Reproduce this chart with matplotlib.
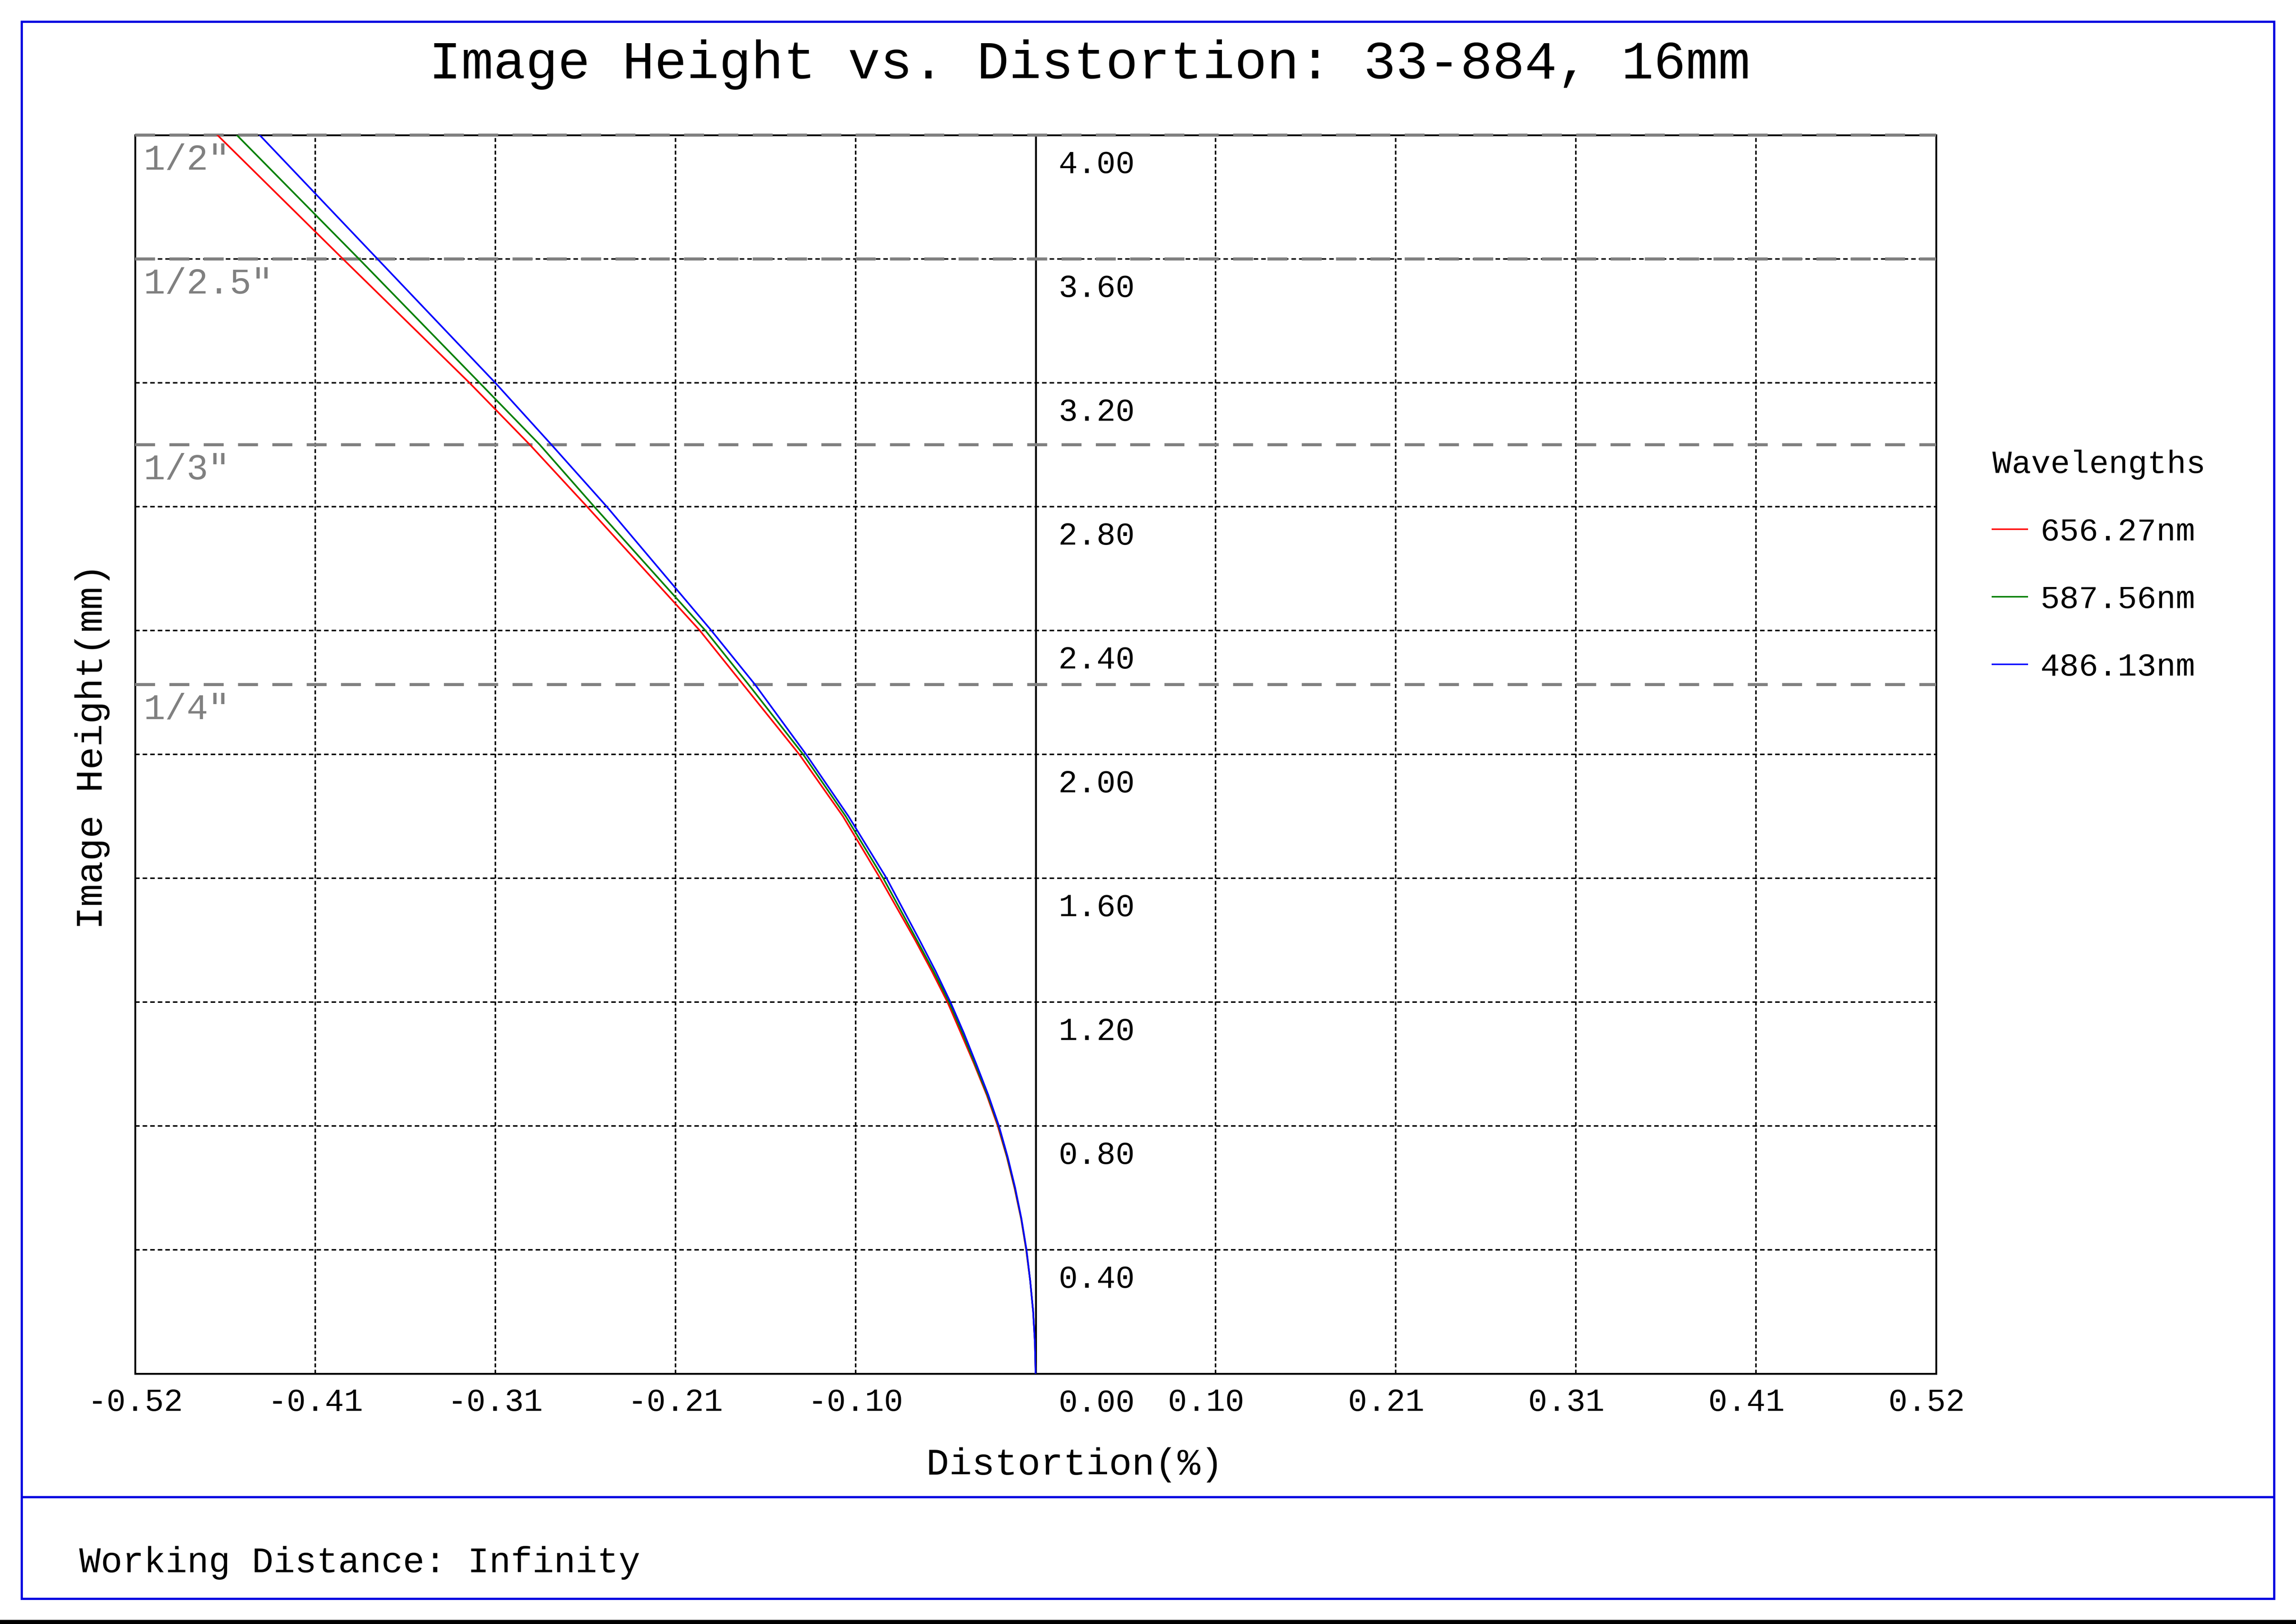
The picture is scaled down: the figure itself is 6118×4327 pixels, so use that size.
import numpy as np
import matplotlib.pyplot as plt
from matplotlib.lines import Line2D
from matplotlib.patches import Rectangle

W, H = 6118, 4327
DPI = 100

# data
image_height = [0.0, 0.1, 0.2, 0.3, 0.4, 0.5, 0.6, 0.7, 0.8, 0.9, 1.0, 1.1, 1.2, 1.3,
                1.4, 1.6, 1.8, 2.0, 2.225, 2.4, 2.8, 3.0, 3.2, 3.6, 4.0]
dist_656 = [0.0, -0.0004, -0.0014, -0.0031, -0.0054, -0.0083, -0.0121, -0.0165, -0.0217,
            -0.0280, -0.0352, -0.0428, -0.0505, -0.0595, -0.0690, -0.0891, -0.1104,
            -0.1354, -0.1675, -0.1924, -0.2570, -0.2898, -0.3244, -0.3969, -0.4688]
dist_587 = [0.0, -0.0004, -0.0014, -0.0031, -0.0053, -0.0082, -0.0119, -0.0163, -0.0213,
            -0.0276, -0.0347, -0.0419, -0.0496, -0.0585, -0.0680, -0.0873, -0.1088,
            -0.1332, -0.1644, -0.1892, -0.2529, -0.2841, -0.3186, -0.3877, -0.4577]
dist_486 = [0.0, -0.0004, -0.0014, -0.0031, -0.0052, -0.0081, -0.0117, -0.0160, -0.0210,
            -0.0271, -0.0340, -0.0411, -0.0488, -0.0573, -0.0665, -0.0854, -0.1072,
            -0.1315, -0.1607, -0.1858, -0.2457, -0.2774, -0.3096, -0.3771, -0.4446]
wavelengths = ['656.27nm', '587.56nm', '486.13nm']
colors = ['#ff0000', '#008000', '#0000ff']

sensor_names = ['1/2"', '1/2.5"', '1/3"', '1/4"']
sensor_heights = [4.0, 3.6, 3.0, 2.225]

x_max = 0.516
x_labels = ['-0.52', '-0.41', '-0.31', '-0.21', '-0.10', '',
            '0.10 ', '0.21 ', '0.31 ', '0.41 ', '0.52 ']
y_max = 4.0
y_labels = ['0.00', '0.40', '0.80', '1.20', '1.60', '2.00',
            '2.40', '2.80', '3.20', '3.60', '4.00']

plt.rcParams['font.family'] = ['Liberation Mono', 'DejaVu Sans Mono']


def fx(px):
    return px / W


def fy(py):
    return 1 - py / H


fig = plt.figure(figsize=(W / DPI, H / DPI), dpi=DPI)
ax = fig.add_axes([fx(360), fy(3660), fx(5159) - fx(360), fy(360) - fy(3660)])
ax.set_xlim(-x_max, x_max)
ax.set_ylim(0, y_max)

x_ticks = np.linspace(-x_max, x_max, len(x_labels))
y_ticks = np.linspace(0, y_max, len(y_labels))
ax.set_xticks(x_ticks, x_labels)
ax.set_yticks(y_ticks, [''] * len(y_ticks))
ax.tick_params(length=0)
ax.tick_params(axis='x', labelsize=61, pad=27)
ax.xaxis.grid(True, color='black', linestyle=(0, (2.6, 1.6)), linewidth=2.9)
ax.yaxis.grid(True, color='black', linestyle=(0, (3, 2)), linewidth=2.9)
for sp in ax.spines.values():
    sp.set_linewidth(3.6)
    sp.set_zorder(2.5)

ax.axvline(0, color='black', lw=3.6, zorder=2.6)

# y values are written right of the zero line, just below each grid line
for v, lab in zip(y_ticks, y_labels):
    ax.text(0.0131, v - 0.1224, lab, fontsize=61, ha='left', va='baseline')

# sensor size markers
for name, h in zip(sensor_names, sensor_heights):
    ax.axhline(h, color='#808080', lw=5.8, dashes=(6.6, 4.75), zorder=3, clip_on=False)
    ax.text(0.0045, h - 0.1115, name, color='#808080', fontsize=69,
            ha='left', va='baseline', transform=ax.get_yaxis_transform())

for d, wl, c in zip([dist_656, dist_587, dist_486], wavelengths, colors):
    ax.plot(d, image_height, color=c, lw=3.2, label=wl, zorder=4)

leg = ax.legend(loc='upper left', bbox_to_anchor=(fx(5309), fy(1198)),
                bbox_transform=fig.transFigure, frameon=False, title='Wavelengths',
                fontsize=62, title_fontsize=62, handlelength=1.08, handletextpad=0.4,
                labelspacing=1.16, alignment='left', borderpad=0, borderaxespad=0)
for line in leg.get_lines():
    line.set_linewidth(2.9)

fig.text(fx(2903), fy(209), 'Image Height vs. Distortion: 33-884, 16mm',
         fontsize=103, ha='center', va='baseline')
fig.text(fx(2864), fy(3929), 'Distortion(%)', fontsize=73, ha='center', va='baseline')
fig.text(fx(246), fy(1989), 'Image Height(mm)', fontsize=73, rotation=90,
         ha='center', va='center')
fig.text(fx(211), fy(4189), 'Working Distance: Infinity', fontsize=69,
         ha='left', va='baseline')

# page frame
blue = '#0000e0'
fig.add_artist(Rectangle((fx(58), fy(4260)), fx(6060) - fx(58), fy(58) - fy(4260),
                         transform=fig.transFigure, fill=False, ec=blue, lw=4.3))
fig.add_artist(Line2D([fx(58), fx(6060)], [fy(3989), fy(3989)],
                      transform=fig.transFigure, color=blue, lw=4.3))
fig.add_artist(Rectangle((0, 0), 1, 11 / H, transform=fig.transFigure,
                         color='black', lw=0))

fig.savefig('out.png', dpi=DPI)
